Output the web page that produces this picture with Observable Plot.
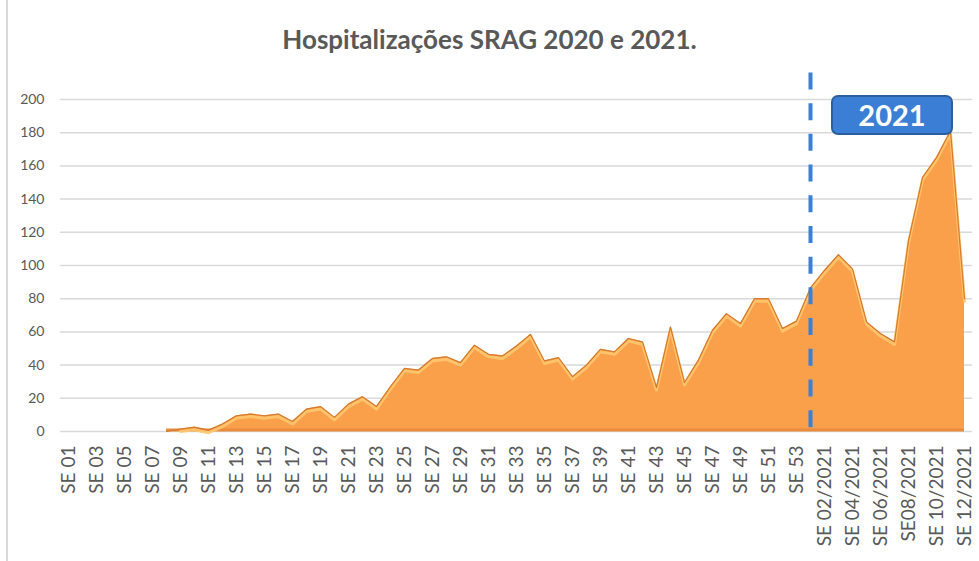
<!DOCTYPE html>
<html>
<head>
<meta charset="utf-8">
<script src="https://cdn.jsdelivr.net/npm/d3@7"></script>
<script src="https://cdn.jsdelivr.net/npm/@observablehq/plot@0.6"></script>
<style>
  body { margin: 0; background: #fff; }
  #wrap { position: relative; width: 979px; height: 561px; overflow: hidden; font-family: Lato, "Open Sans", sans-serif; background: #fff; }
  #title { position: absolute; left: 0; top: 22px; width: 979px; line-height: 34px; text-align: center; font-weight: bold; font-size: 26px; color: #595959; }
  #border { position: absolute; left: 6px; top: 0; width: 2px; height: 561px; background: #d9d9d9; }
  #chart { position: absolute; left: 0; top: 60px; }
  #badge { position: absolute; left: 831px; top: 95px; width: 122px; height: 40px; box-sizing: border-box; background: #3a7fd5; border: 2px solid #2b5f9f; border-radius: 7px; color: #fff; font-weight: bold; font-size: 29px; line-height: 36px; text-align: center; }
</style>
</head>
<body>
<div id="wrap">
  <div id="border"></div>
  <div id="title">Hospitalizações SRAG 2020 e 2021.</div>
  <div id="chart"></div>
  <div id="badge">2021</div>
</div>
<script>
const categories = [
  "SE 01","SE 02","SE 03","SE 04","SE 05","SE 06","SE 07","SE 08","SE 09","SE 10",
  "SE 11","SE 12","SE 13","SE 14","SE 15","SE 16","SE 17","SE 18","SE 19","SE 20",
  "SE 21","SE 22","SE 23","SE 24","SE 25","SE 26","SE 27","SE 28","SE 29","SE 30",
  "SE 31","SE 32","SE 33","SE 34","SE 35","SE 36","SE 37","SE 38","SE 39","SE 40",
  "SE 41","SE 42","SE 43","SE 44","SE 45","SE 46","SE 47","SE 48","SE 49","SE 50",
  "SE 51","SE 52","SE 53",
  "SE 01/2021","SE 02/2021","SE 03/2021","SE 04/2021","SE 05/2021","SE 06/2021",
  "SE 07/2021","SE08/2021","SE 09/2021","SE 10/2021","SE 11/2021","SE 12/2021"
];
const values = [
  0, 0, 0, 0, 0, 0, 0, 0, 1.5, 2.6,
  0.8, 4.5, 9.5, 10.5, 9.5, 10.5, 6, 13.5, 15, 8.5,
  16.5, 21, 15, 27, 38, 37, 44, 45, 41.5, 52,
  46.5, 45.5, 51.5, 58.5, 42.5, 44.5, 33, 40, 49.5, 48,
  56, 54, 26.5, 63, 29.5, 43, 61, 71, 65, 80,
  80, 62, 66.5,
  86.5, 97, 106.5, 98, 66, 59,
  54, 115, 153, 165, 181, 80
];
const yTicks = [0, 20, 40, 60, 80, 100, 120, 140, 160, 180, 200];
const xTicks = categories.filter((d, i) => i % 2 === 0);
const divider = "SE 01/2021";

const data = categories.map((c, i) => ({c, v: values[i]}));
const first = values.findIndex(v => v > 0);
const start = Math.max(0, first - 1);
const edge = data.slice(start);
const glow = data.slice(first);

const chart = Plot.plot({
  width: 979,
  height: 501,
  marginLeft: 60,
  marginRight: 7,
  marginTop: 39,
  marginBottom: 130,
  style: {fontFamily: "Lato, 'Open Sans', sans-serif", color: "#595959", background: "transparent", overflow: "visible"},
  x: {type: "point", domain: categories, padding: 0},
  y: {domain: [0, 200]},
  marks: [
    Plot.gridY(yTicks, {stroke: "#d9d9d9", strokeOpacity: 1, strokeWidth: 1.5}),
    Plot.areaY(data, {x: "c", y: "v", fill: "#fa9f4a"}),
    Plot.ruleY([{a: categories[start], b: categories[categories.length - 1]}], {x1: "a", x2: "b", y: 0, stroke: "#e98c3d", strokeWidth: 3, dy: -1.5}),
    Plot.lineY(glow, {x: "c", y: "v", stroke: "#ffc770", strokeWidth: 3, dy: 2.5, strokeOpacity: 0.9}),
    Plot.lineY(edge, {x: "c", y: "v", stroke: "#d67a2e", strokeWidth: 1.2}),
    Plot.ruleX([divider], {y1: 216, y2: 0, stroke: "#3a80d6", strokeWidth: 4, strokeDasharray: "17,13.7"}),
    Plot.axisY({ticks: yTicks, tickSize: 0, tickPadding: 16, fontSize: 14, label: null}),
    Plot.axisX({ticks: xTicks, tickSize: 0, tickRotate: -90, tickPadding: 14, fontSize: 19, label: null})
  ]
});
document.getElementById("chart").appendChild(chart);
</script>
</body>
</html>
